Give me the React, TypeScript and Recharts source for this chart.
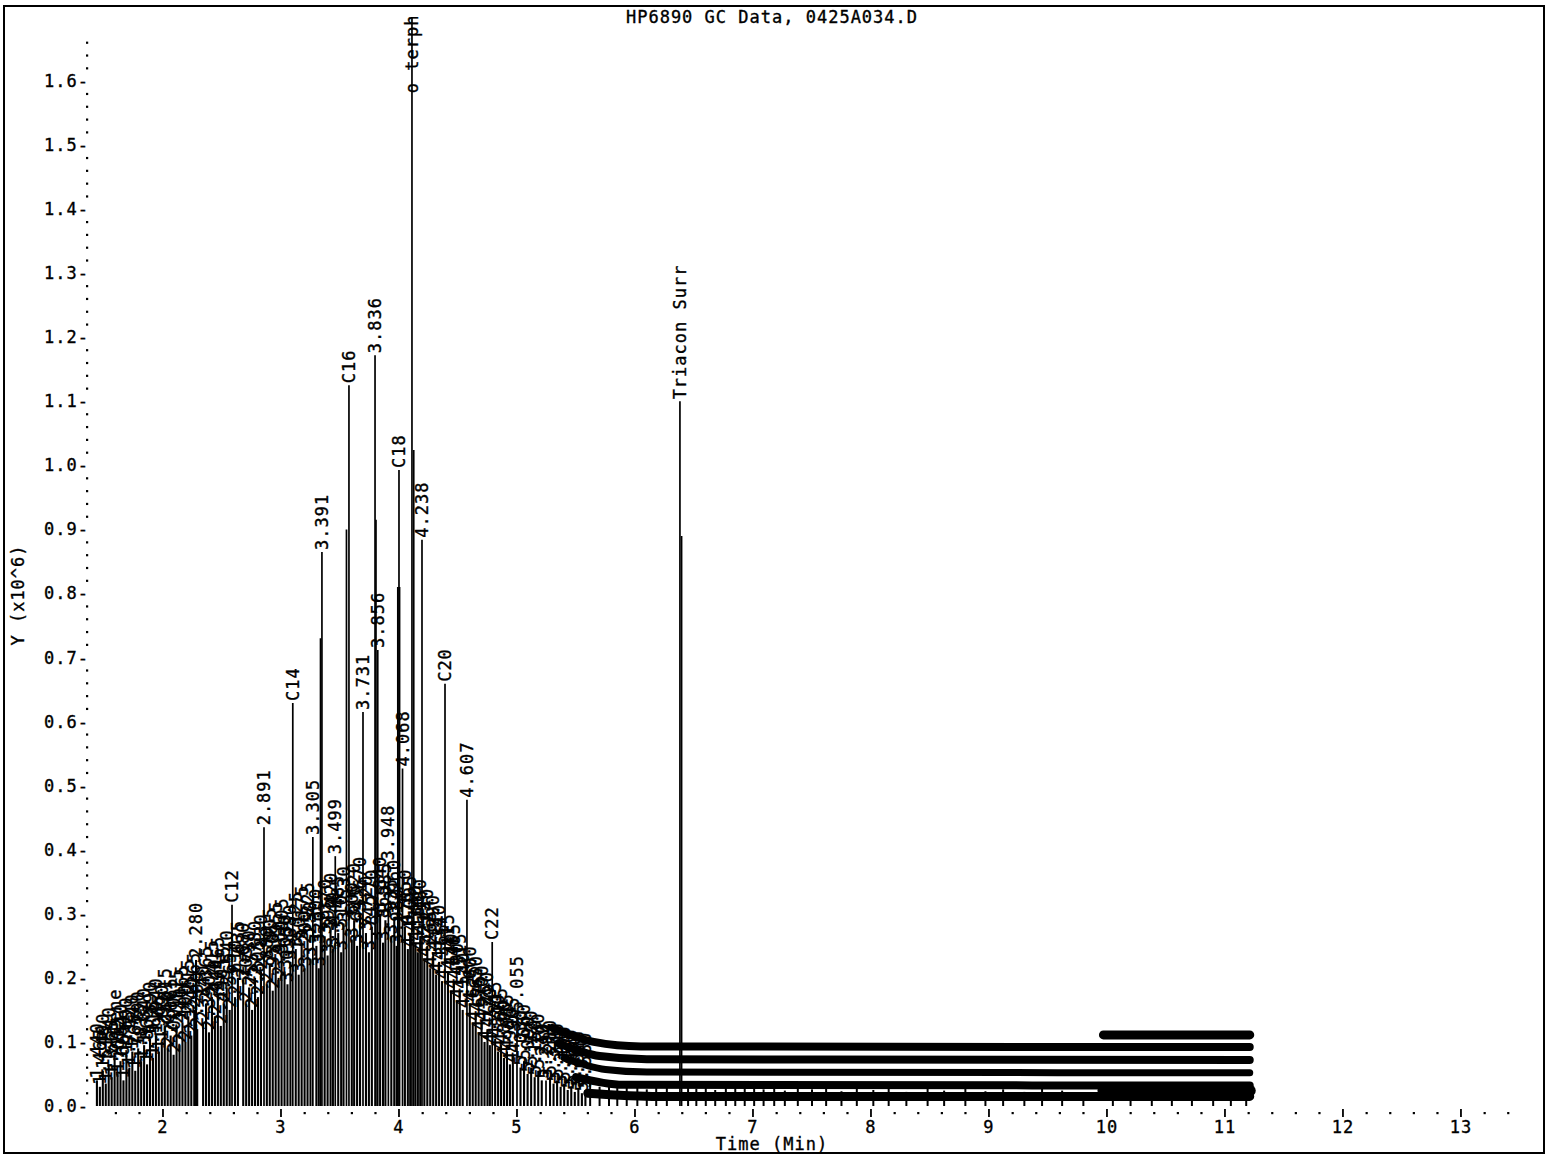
import React from 'react';
import { ComposedChart, Scatter, Line, XAxis, YAxis } from 'recharts';

const FONT = '"DejaVu Sans Mono", "Liberation Mono", monospace';
const W = 1551;
const H = 1158;
const MARGIN = { top: 17, right: 36, bottom: 0, left: 0 };
const Y_AXIS_W = 87;
const X_AXIS_H = 52;
const Y_MAX = 1.7;
const X_MIN = 1.356;
const X_MAX = 13.458;
const PLOT_BOTTOM = H - MARGIN.bottom - X_AXIS_H;
const PLOT_H = PLOT_BOTTOM - MARGIN.top;
const PX_PER_UNIT = PLOT_H / Y_MAX;

// axis labels
const yTickLabels = ['0.0', '0.1', '0.2', '0.3', '0.4', '0.5', '0.6', '0.7', '0.8', '0.9', '1.0', '1.1', '1.2', '1.3', '1.4', '1.5', '1.6'];
const xTickLabels = ['2', '3', '4', '5', '6', '7', '8', '9', '10', '11', '12', '13'];

// named peaks: retention time (min), height (x10^6), label
const namedPeakTimes = [2.585, 2.856, 3.100, 3.270, 3.347, 3.460, 3.576, 3.695, 3.797, 3.820, 3.910, 4.000, 4.030, 4.110, 4.195, 4.390, 4.576, 4.790, 5.000, 5.246, 6.381];
const namedPeakHeights = [0.314, 0.435, 0.629, 0.420, 0.865, 0.390, 1.125, 0.615, 1.172, 0.712, 0.380, 0.993, 0.527, 1.70, 0.884, 0.659, 0.478, 0.256, 0.145, 0.040, 1.100];
const namedPeakLabels = ['C12', '2.891', 'C14', '3.305', '3.391', '3.499', 'C16', '3.731', '3.836', '3.856', '3.948', 'C18', '4.068', 'o terph', '4.238', 'C20', '4.607', 'C22', '5.055', '5.294', 'Triacon Surr'];
// where the label sits when the peak runs off scale
const namedPeakLabelAt = [null, null, null, null, null, null, null, null, null, null, null, null, null, 1.578, null, null, null, null, null, null, null];

// tall peaks whose labels are hidden
const tallPeakTimes = [3.335, 3.555, 3.805, 3.990, 4.005, 4.125, 6.395];
const tallPeakHeights = [0.730, 0.900, 0.915, 0.810, 0.810, 1.024, 0.890];

// the crowd of small peaks under the hump
const smallPeakTimes = [
  1.440, 1.465, 1.490, 1.515, 1.540, 1.565, 1.590, 1.615, 1.640, 1.665, 1.690, 1.715, 1.740, 1.765, 1.790,
  1.815, 1.840, 1.865, 1.890, 1.915, 1.940, 1.965, 1.990, 2.015, 2.040, 2.065, 2.090, 2.115, 2.140, 2.165,
  2.190, 2.215, 2.240, 2.265, 2.280, 2.290, 2.340, 2.365, 2.390, 2.415, 2.440, 2.465, 2.490, 2.515, 2.540,
  2.565, 2.610, 2.635, 2.680, 2.705, 2.730, 2.755, 2.780, 2.805, 2.830, 2.880, 2.905, 2.930, 2.955, 2.980,
  3.005, 3.030, 3.055, 3.080, 3.125, 3.150, 3.175, 3.200, 3.225, 3.250, 3.300, 3.320, 3.370, 3.395, 3.420,
  3.440, 3.485, 3.510, 3.530, 3.600, 3.620, 3.645, 3.670, 3.720, 3.745, 3.770, 3.840, 3.865, 3.885, 3.935,
  3.960, 3.980, 4.050, 4.075, 4.095, 4.140, 4.160, 4.180, 4.215, 4.240, 4.265, 4.290, 4.315, 4.340, 4.365,
  4.415, 4.440, 4.465, 4.490, 4.515, 4.540, 4.600, 4.625, 4.650, 4.675, 4.700, 4.725, 4.750, 4.770, 4.815,
  4.840, 4.865, 4.890, 4.915, 4.940, 4.965, 5.030, 5.060, 5.090, 5.120, 5.150, 5.180, 5.210, 5.280, 5.310,
  5.340, 5.370, 5.400, 5.430, 5.460, 5.490, 5.520, 5.550, 5.580,
];
const smallPeakHeights = [
  0.040, 0.030, 0.055, 0.035, 0.065, 0.045, 0.075, 0.050, 0.070, 0.040, 0.080, 0.060, 0.085, 0.055, 0.090,
  0.070, 0.095, 0.065, 0.105, 0.075, 0.110, 0.085, 0.100, 0.126, 0.090, 0.110, 0.080, 0.125, 0.095, 0.130,
  0.100, 0.140, 0.110, 0.150, 0.228, 0.120, 0.130, 0.160, 0.115, 0.170, 0.140, 0.175, 0.125, 0.160, 0.185,
  0.150, 0.170, 0.200, 0.197, 0.160, 0.185, 0.150, 0.200, 0.170, 0.210, 0.190, 0.220, 0.180, 0.230, 0.200,
  0.235, 0.210, 0.190, 0.225, 0.245, 0.205, 0.255, 0.215, 0.260, 0.230, 0.250, 0.215, 0.265, 0.235, 0.275,
  0.245, 0.270, 0.240, 0.285, 0.260, 0.290, 0.250, 0.300, 0.270, 0.240, 0.280, 0.300, 0.255, 0.290, 0.265,
  0.295, 0.250, 0.280, 0.245, 0.270, 0.255, 0.240, 0.265, 0.230, 0.250, 0.215, 0.240, 0.205, 0.225, 0.195,
  0.210, 0.180, 0.195, 0.165, 0.180, 0.150, 0.160, 0.130, 0.145, 0.115, 0.130, 0.100, 0.120, 0.095, 0.105,
  0.085, 0.095, 0.075, 0.085, 0.065, 0.080, 0.060, 0.070, 0.050, 0.060, 0.045, 0.055, 0.040, 0.045, 0.035,
  0.040, 0.030, 0.035, 0.025, 0.030, 0.022, 0.028, 0.020, 0.025,
];

// tiny late peaks, unlabeled, in the flat tail
const tailPeakTimes = [
  5.62, 5.70, 5.78, 5.85, 5.93, 6.02, 6.10, 6.18, 6.27, 6.45, 6.52, 6.60, 6.68, 6.77, 6.85, 6.93, 7.01, 7.09,
  7.18, 7.27, 7.38, 7.50, 7.62, 7.75, 7.88, 8.02, 8.15, 8.30, 8.48, 8.62, 8.80, 8.97, 9.12, 9.30, 9.45, 9.62,
  9.80, 10.05, 10.20, 10.38, 10.55, 10.72, 10.90, 11.05, 11.18,
];
const tailPeakHeights = [
  0.040, 0.030, 0.036, 0.028, 0.034, 0.030, 0.026, 0.033, 0.029, 0.031, 0.027, 0.034, 0.025, 0.030, 0.028,
  0.035, 0.032, 0.026, 0.030, 0.024, 0.029, 0.026, 0.031, 0.023, 0.028, 0.025, 0.030, 0.022, 0.027, 0.024,
  0.029, 0.023, 0.026, 0.022, 0.028, 0.024, 0.021, 0.030, 0.028, 0.031, 0.027, 0.030, 0.029, 0.031, 0.030,
];

// rows of crowded labels of the tiny late peaks (time, height)
const labelRow1 = [[9.97, 0.111], [11.21, 0.111]];
const labelRow2 = [[5.30, 0.122], [5.65, 0.100], [6.05, 0.093], [11.21, 0.092]];
const labelRow3 = [[5.35, 0.098], [5.70, 0.078], [6.10, 0.073], [11.21, 0.072]];
const labelRow4 = [[5.40, 0.075], [5.75, 0.057], [6.10, 0.053], [9.90, 0.052], [11.21, 0.052]];
const labelRow5 = [[5.50, 0.045], [5.90, 0.033], [11.21, 0.032]];
const labelRow6 = [[5.60, 0.020], [6.20, 0.015], [11.21, 0.015]];
const labelRow7 = [[9.97, 0.024], [11.21, 0.024]];

const peakData = [
  ...namedPeakTimes.map((t, i) => ({ t, v: namedPeakHeights[i], label: namedPeakLabels[i], labelAt: namedPeakLabelAt[i], w: 1.7 })),
  ...tallPeakTimes.map((t, i) => ({ t, v: tallPeakHeights[i], label: '', labelAt: null, w: 1.7 })),
  ...smallPeakTimes.map((t, i) => ({ t, v: smallPeakHeights[i], label: i === 6 ? 'Xylene' : t.toFixed(3), labelAt: null, w: 2.1 })),
  ...tailPeakTimes.map((t, i) => ({ t, v: tailPeakHeights[i], label: '', labelAt: null, w: 2 })),
];

const toRow = (row: number[][]) => row.map(([t, v]) => ({ t, v }));

const yTicks: number[] = [];
for (let i = 0; i <= 83; i++) yTicks.push(i / 50);
const xTicks: number[] = [];
for (let i = 8; i <= 67; i++) xTicks.push(i / 5);

const TEXT_PROPS = {
  fontFamily: FONT,
  fontSize: 17,
  letterSpacing: 1,
  fill: '#000',
  stroke: '#000',
  strokeWidth: 0.35,
};

const Peak = (props: any) => {
  const { cx, cy, payload } = props;
  if (cx == null || cy == null) return null;
  const ly = payload.labelAt != null ? cy + (payload.v - payload.labelAt) * PX_PER_UNIT : cy;
  return (
    <g>
      <line x1={cx} x2={cx} y1={Math.max(cy, MARGIN.top - 2)} y2={PLOT_BOTTOM} stroke="#000" strokeWidth={payload.w} />
      {payload.label ? (
        <text
          x={cx}
          y={ly - 2}
          transform={`rotate(-90 ${cx} ${ly - 2})`}
          textAnchor="start"
          dominantBaseline="central"
          {...TEXT_PROPS}
        >
          {payload.label}
        </text>
      ) : null}
    </g>
  );
};

const XTick = (props: any) => {
  const { x, y, payload } = props;
  const i = Math.round(payload.value * 5);
  if (i % 5 === 0) {
    return (
      <g>
        <line x1={x} x2={x} y1={y + 3} y2={y + 11} stroke="#000" strokeWidth={1.8} />
        <text x={x} y={y + 27} textAnchor="middle" {...TEXT_PROPS}>
          {xTickLabels[i / 5 - 2]}
        </text>
      </g>
    );
  }
  return <rect x={x - 1} y={y + 6} width={2.2} height={2.2} fill="#000" />;
};

const YTick = (props: any) => {
  const { x, y, payload } = props;
  const i = Math.round(payload.value * 50);
  if (i % 5 === 0) {
    return (
      <text x={x + 2} y={y} dy="0.35em" textAnchor="end" {...TEXT_PROPS}>
        {yTickLabels[i / 5]}-
      </text>
    );
  }
  return <rect x={x - 1} y={y - 1} width={2.2} height={2.2} fill="#000" />;
};

const rows = [
  { data: labelRow1, w: 9 },
  { data: labelRow2, w: 8 },
  { data: labelRow3, w: 8 },
  { data: labelRow4, w: 7 },
  { data: labelRow5, w: 8 },
  { data: labelRow6, w: 9 },
  { data: labelRow7, w: 12 },
];

const htmlText: React.CSSProperties = {
  position: 'absolute',
  fontSize: 17,
  letterSpacing: 1,
  color: '#000',
  WebkitTextStroke: '0.35px #000',
  whiteSpace: 'nowrap',
};

export default function App() {
  return (
    <div style={{ position: 'absolute', left: 0, top: 0, width: W, height: H, background: '#fff', fontFamily: FONT }}>
      <div style={{ position: 'absolute', left: 3, top: 5, width: 1542, height: 1149, border: '2px solid #000', boxSizing: 'border-box' }} />
      <div style={{ ...htmlText, left: 0, width: 1544, top: 7, textAlign: 'center' }}>HP6890 GC Data, 0425A034.D</div>
      <div style={{ ...htmlText, left: 0, width: 1544, top: 1134, textAlign: 'center' }}>Time (Min)</div>
      <div style={{ ...htmlText, left: 18, top: 595, transform: 'translate(-50%, -50%) rotate(-90deg)' }}>Y (x10^6)</div>
      <div style={{ position: 'absolute', left: 0, top: 0 }}>
        <ComposedChart width={W} height={H} margin={MARGIN}>
          <XAxis
            type="number"
            dataKey="t"
            domain={[X_MIN, X_MAX]}
            allowDataOverflow
            ticks={xTicks}
            interval={0}
            height={X_AXIS_H}
            axisLine={false}
            tickLine={false}
            tickSize={0}
            tickMargin={0}
            tick={<XTick />}
          />
          <YAxis
            type="number"
            dataKey="v"
            domain={[0, Y_MAX]}
            allowDataOverflow
            ticks={yTicks}
            interval={0}
            width={Y_AXIS_W}
            axisLine={false}
            tickLine={false}
            tickSize={0}
            tickMargin={0}
            tick={<YTick />}
          />
          {rows.map((r, i) => (
            <Line
              key={i}
              data={toRow(r.data)}
              dataKey="v"
              type="monotone"
              stroke="#000"
              strokeWidth={r.w}
              strokeLinecap="round"
              dot={false}
              isAnimationActive={false}
            />
          ))}
          <Scatter data={peakData} dataKey="v" shape={Peak} isAnimationActive={false} />
        </ComposedChart>
      </div>
    </div>
  );
}
